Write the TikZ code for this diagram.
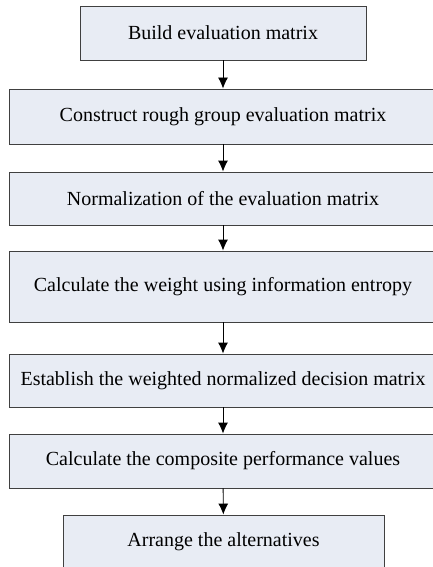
\documentclass[tikz,border=0pt]{standalone}
\usepackage{fontspec}
\setmainfont{Liberation Serif}
\usetikzlibrary{arrows.meta, positioning}

\definecolor{boxfill}{RGB}{232,236,244}
\tikzset{
  stepbox/.style={draw=black!75, line width=0.9pt, fill=boxfill,
    font=\fontsize{20}{24}\selectfont, inner sep=0pt},
  flow/.style={->, line width=0.9pt}
}

\begin{document}
\begin{tikzpicture}[x=1pt, y=-1pt, >={Latex[length=11pt,width=10pt]}]
  \useasboundingbox (0,0) rectangle (433,567);
  \clip (0,0) rectangle (433,567);
  \node [stepbox, minimum width=286pt, minimum height=54pt] (build) at (223,33) {Build evaluation matrix};
  \node [stepbox, minimum width=428pt, minimum height=55pt] (rough) at (223,116.5) {Construct rough group evaluation matrix};
  \node [stepbox, minimum width=428pt, minimum height=53pt] (norm) at (223,198.5) {Normalization of the evaluation matrix};
  \node [stepbox, minimum width=428pt, minimum height=71pt] (weight) at (223,286.5) {Calculate the weight using information entropy};
  \node [stepbox, minimum width=428pt, minimum height=53pt] (wnorm) at (223,380.5) {Establish the weighted normalized decision matrix};
  \node [stepbox, minimum width=428pt, minimum height=54pt] (perf) at (223,461) {Calculate the composite performance values};
  \node [stepbox, minimum width=321pt, minimum height=54pt] (arrange) at (223.5,542) {Arrange the alternatives};
  \draw [flow] (build) -- (rough);
  \draw [flow] (rough) -- (norm);
  \draw [flow] (norm) -- (weight);
  \draw [flow] (weight) -- (wnorm);
  \draw [flow] (wnorm) -- (perf);
  \draw [flow] (perf) -- (arrange);
\end{tikzpicture}
\end{document}
